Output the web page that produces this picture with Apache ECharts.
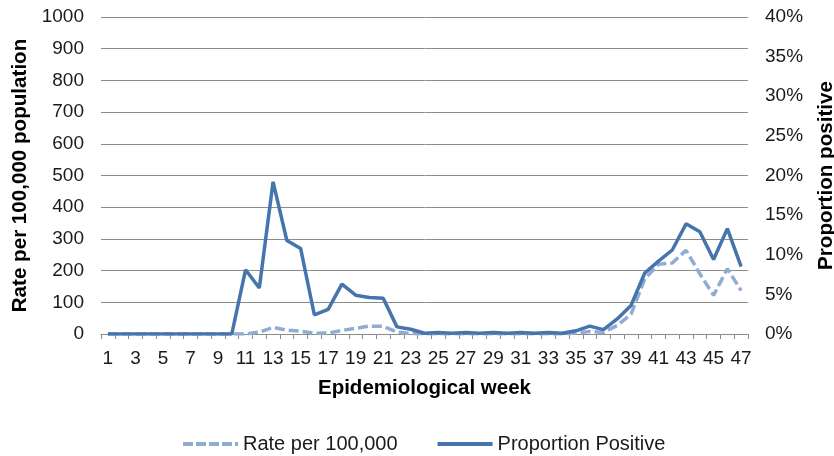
<!DOCTYPE html>
<html>
<head>
<meta charset="utf-8">
<script src="https://cdn.jsdelivr.net/npm/echarts@6/dist/echarts.min.js"></script>
<style>
  html, body { margin: 0; padding: 0; background: #fff; }
  #chart { width: 834px; height: 456px; }
</style>
</head>
<body>
<div id="chart"></div>
<script>
const weeks = ['1','2','3','4','5','6','7','8','9','10','11','12','13','14','15','16','17','18','19','20',
  '21','22','23','24','25','26','27','28','29','30','31','32','33','34','35','36','37','38','39','40',
  '41','42','43','44','45','46','47']
// rate per 100,000 (left axis)
const rate = [0,0,0,0,0,0,0,0,0,0,
  0,6,21,12,9,2,3,11,18,25,
  24,6,2,1,1,1,1,1,1,1,
  1,1,1,1,3,8,5,27,62,174,
  220,224,264,190,122,206,137]
// proportion positive, % (right axis)
const proportion = [0,0,0,0,0,0,0,0,0,0,
  8.1,5.8,19.2,11.8,10.8,2.4,3.1,6.3,4.9,4.6,
  4.5,0.9,0.6,0.1,0.2,0.1,0.2,0.1,0.2,0.1,
  0.2,0.1,0.2,0.1,0.4,1.0,0.55,1.9,3.6,7.7,
  9.2,10.6,13.9,12.9,9.4,13.3,8.5]

const font = '"Liberation Sans", Arial, sans-serif'
const gridGray = '#8c8c8c'
const rateColor = '#91acd4'
const propColor = '#4674ac'
// legend icons: dashed and solid strokes
const dashIcon = 'path://M0,0h10v4h-10z M13,0h10v4h-10z M26,0h10v4h-10z M39,0h10v4h-10z M52,0h3v4h-3z'
const solidIcon = 'path://M0,0h55v4h-55z'

const chart = echarts.init(document.getElementById('chart'))
chart.setOption({
  animation: false,
  textStyle: { fontFamily: font },
  grid: { left: 101, right: 86, top: 17, bottom: 122, containLabel: false, outerBoundsMode: 'none' },
  legend: {
    top: 434,
    left: 183,
    padding: 0,
    itemWidth: 55,
    itemHeight: 4,
    itemGap: 40,
    itemStyle: { borderWidth: 0 },
    lineStyle: { width: 0 },
    textStyle: { fontSize: 20, color: '#1a1a1a', fontFamily: font },
    data: [
      { name: 'Rate per 100,000', icon: dashIcon, itemStyle: { color: rateColor, borderWidth: 0 } },
      { name: 'Proportion Positive', icon: solidIcon, itemStyle: { color: propColor, borderWidth: 0 } }
    ]
  },
  xAxis: {
    type: 'category',
    data: weeks,
    boundaryGap: true,
    name: 'Epidemiological week',
    nameLocation: 'middle',
    nameGap: 44,
    nameTextStyle: { fontSize: 20.5, fontWeight: 'bold', color: '#000', fontFamily: font },
    axisLine: { lineStyle: { color: gridGray, width: 1 } },
    axisTick: { show: true, interval: 0, length: 5, lineStyle: { color: gridGray } },
    axisLabel: { interval: 1, margin: 15, fontSize: 19, color: '#1a1a1a', fontFamily: font }
  },
  yAxis: [
    {
      type: 'value',
      min: 0,
      max: 1000,
      interval: 100,
      name: 'Rate per 100,000 population',
      nameLocation: 'middle',
      nameGap: 64,
      nameRotate: 90,
      nameTextStyle: { fontSize: 20.6, fontWeight: 'bold', color: '#000', fontFamily: font },
      axisLine: { show: false },
      axisTick: { show: false },
      axisLabel: { margin: 17, fontSize: 19, color: '#1a1a1a', fontFamily: font, formatter: (v) => String(v) },
      splitLine: { lineStyle: { color: gridGray, width: 1 } }
    },
    {
      type: 'value',
      min: 0,
      max: 40,
      interval: 5,
      name: 'Proportion positive',
      nameLocation: 'middle',
      nameGap: 68,
      nameRotate: 90,
      nameTextStyle: { fontSize: 20.6, fontWeight: 'bold', color: '#000', fontFamily: font },
      axisLine: { show: false },
      axisTick: { show: false },
      axisLabel: { margin: 17, fontSize: 19, color: '#1a1a1a', fontFamily: font, formatter: '{value}%' },
      splitLine: { show: false }
    }
  ],
  series: [
    {
      name: 'Rate per 100,000',
      type: 'line',
      yAxisIndex: 0,
      data: rate,
      symbol: 'none',
      lineStyle: { color: rateColor, width: 3.5, type: [10, 4] },
      itemStyle: { color: rateColor }
    },
    {
      name: 'Proportion Positive',
      type: 'line',
      yAxisIndex: 1,
      data: proportion,
      symbol: 'none',
      lineStyle: { color: propColor, width: 3.5 },
      itemStyle: { color: propColor }
    }
  ]
})
</script>
</body>
</html>
